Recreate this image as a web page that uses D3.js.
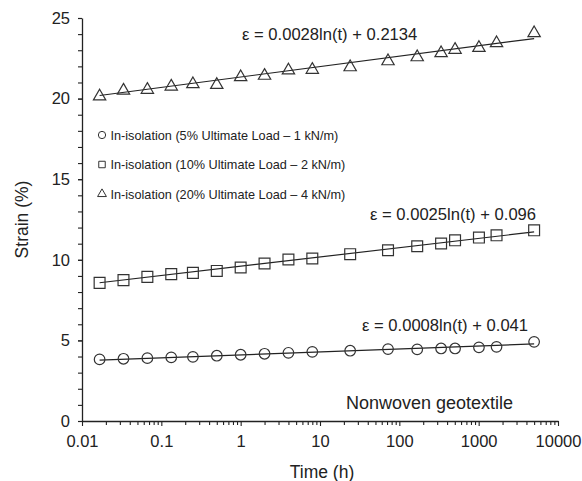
<!DOCTYPE html>
<html>
<head>
<meta charset="utf-8">
<script src="https://cdn.jsdelivr.net/npm/d3@7"></script>
<style>
  body { margin: 0; background: #fff; }
  svg text { font-family: Arial, 'Liberation Sans', sans-serif; fill: #222; }
</style>
</head>
<body>
<div id="chart"></div>
<script>
// time in hours (1, 2, 4, 8, 15, 30 min then hours)
const times = [1 / 60, 2 / 60, 4 / 60, 8 / 60, 0.25, 0.5, 1, 2, 4, 8, 24, 72, 168, 336, 504, 1008, 1680, 5000]

const strain5 = [3.82, 3.86, 3.9, 3.95, 3.98, 4.05, 4.11, 4.17, 4.23, 4.29, 4.36, 4.46, 4.44, 4.5, 4.5, 4.57, 4.6, 4.91]
const strain10 = [8.57, 8.74, 8.94, 9.11, 9.19, 9.31, 9.52, 9.77, 10.02, 10.08, 10.35, 10.59, 10.84, 11.01, 11.21, 11.38, 11.52, 11.83]
const strain20 = [20.14, 20.5, 20.55, 20.75, 20.9, 20.85, 21.33, 21.42, 21.75, 21.79, 21.95, 22.32, 22.57, 22.82, 23.03, 23.15, 23.44, 24.06]

// fitted lines: eps = a ln(t) + b (strain as fraction)
const fits = [
  { a: 0.0008, b: 0.041, label: 'ε = 0.0008ln(t) + 0.041' },
  { a: 0.0025, b: 0.096, label: 'ε = 0.0025ln(t) + 0.096' },
  { a: 0.0028, b: 0.2134, label: 'ε = 0.0028ln(t) + 0.2134' },
]

const legendLabels = [
  'In-isolation (5% Ultimate Load – 1 kN/m)',
  'In-isolation (10% Ultimate Load – 2 kN/m)',
  'In-isolation (20% Ultimate Load – 4 kN/m)',
]

const xTickValues = [0.01, 0.1, 1, 10, 100, 1000, 10000]
const yTickValues = [0, 5, 10, 15, 20, 25]

const margin = { top: 18, right: 24, bottom: 60, left: 82 }
const width = 582 - margin.left - margin.right
const height = 481 - margin.top - margin.bottom

const svg = d3
  .select('#chart')
  .append('svg')
  .attr('width', 582)
  .attr('height', 481)
  .append('g')
  .attr('transform', `translate(${margin.left}, ${margin.top})`)

const x = d3.scaleLog().domain([0.01, 10000]).range([0, width])
const y = d3.scaleLinear().domain([0, 25]).range([height, 0])

// minor ticks
const minorX = []
for (let e = -2; e < 4; e++) {
  for (let m = 2; m <= 9; m++) minorX.push(m * Math.pow(10, e))
}

svg
  .append('g')
  .attr('transform', `translate(0, ${height})`)
  .call(d3.axisBottom(x).tickValues(minorX).tickSize(4).tickFormat(''))
  .call((g) => g.select('.domain').remove())

svg
  .append('g')
  .attr('transform', `translate(0, ${height})`)
  .call(d3.axisBottom(x).tickValues(xTickValues).tickSize(5).tickSizeOuter(0).tickPadding(9).tickFormat(d3.format('~g')))

svg
  .append('g')
  .call(d3.axisLeft(y).tickValues(d3.range(0, 26)).tickSize(4).tickFormat(''))
  .call((g) => g.select('.domain').remove())

svg
  .append('g')
  .call(d3.axisLeft(y).tickValues(yTickValues).tickSize(4).tickSizeOuter(0).tickPadding(8))

svg.selectAll('.domain').attr('stroke', '#222').attr('stroke-width', 1.3)
svg.selectAll('.tick line').attr('stroke', '#222').attr('stroke-width', 1.1)
svg.selectAll('.tick text').style('font-size', '16.5px').attr('fill', '#222')

// axis labels
svg
  .append('text')
  .attr('x', width / 2 + 2)
  .attr('y', height + 57)
  .style('text-anchor', 'middle')
  .style('font-size', '17.5px')
  .text('Time (h)')

svg
  .append('text')
  .attr('x', -height / 2)
  .attr('y', -54)
  .attr('transform', 'rotate(-90)')
  .style('text-anchor', 'middle')
  .style('font-size', '17.5px')
  .text('Strain (%)')

// fit lines
fits.forEach((f) => {
  const t0 = times[0]
  const t1 = times[times.length - 1]
  svg
    .append('line')
    .attr('x1', x(t0))
    .attr('y1', y((f.a * Math.log(t0) + f.b) * 100))
    .attr('x2', x(t1))
    .attr('y2', y((f.a * Math.log(t1) + f.b) * 100))
    .attr('stroke', '#222')
    .attr('stroke-width', 1.2)
})

const symbols = [d3.symbolCircle, d3.symbolSquare, d3.symbolTriangle]
const symSizes = [88, 118, 66]
const series = [strain5, strain10, strain20]

series.forEach((vals, s) => {
  svg
    .append('g')
    .selectAll('path')
    .data(vals)
    .join('path')
    .attr('d', d3.symbol().type(symbols[s]).size(symSizes[s]))
    .attr('transform', (d, i) => `translate(${x(times[i])}, ${y(d)})`)
    .attr('fill', 'none')
    .attr('stroke', '#333')
    .attr('stroke-width', 1.2)
})

// equations
const eqPos = [
  { x: 280, y: 313 },
  { x: 288, y: 202 },
  { x: 160, y: 22 },
]
fits.forEach((f, i) => {
  svg
    .append('text')
    .attr('x', eqPos[i].x)
    .attr('y', eqPos[i].y)
    .style('font-size', '16.6px')
    .text(f.label)
})

// legend
const legend = svg.append('g').attr('transform', 'translate(20, 117)')
legendLabels.forEach((lab, i) => {
  const row = legend.append('g').attr('transform', `translate(0, ${i * 29.5})`)
  row
    .append('path')
    .attr('d', d3.symbol().type(symbols[i]).size(i === 2 ? 34 : 42))
    .attr('fill', 'none')
    .attr('stroke', '#333')
    .attr('stroke-width', 1)
  row
    .append('text')
    .attr('x', 8.5)
    .attr('y', 4.5)
    .style('font-size', '12.7px')
    .attr('fill', '#333')
    .text(lab)
})

svg
  .append('text')
  .attr('x', 264)
  .attr('y', 391)
  .style('font-size', '18px')
  .text('Nonwoven geotextile')
</script>
</body>
</html>
